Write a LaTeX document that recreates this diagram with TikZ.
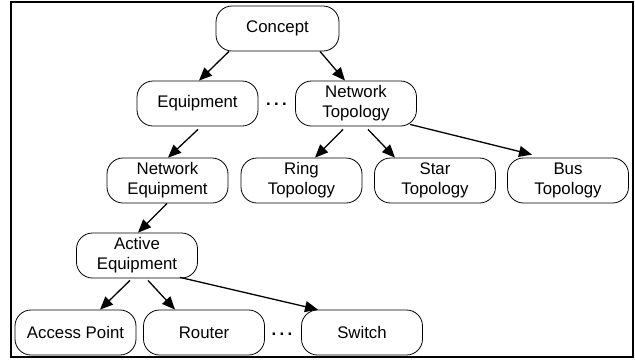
\documentclass[tikz,border=0pt]{standalone}
\usepackage{fontspec}
\setmainfont{Liberation Sans}
\usetikzlibrary{arrows.meta}

\tikzset{
  concept box/.style={draw, line width=0.8pt, rounded corners=16pt,
    minimum width=121pt, minimum height=45pt, inner sep=0pt, align=center,
    font=\fontsize{16.8}{20}\selectfont},
  link/.style={line width=1.3pt, -{Triangle[length=13pt,width=11pt]}},
  ellipsis/.style={font=\fontsize{16.8}{20}\selectfont\bfseries, inner sep=0pt}
}
\newcommand{\spaceddots}{.\hspace{3.3pt}.\hspace{3.3pt}.}

\begin{document}
\begin{tikzpicture}[x=1pt, y=-1pt]
  \useasboundingbox (0,0) rectangle (635,360);
  % outer frame
  \draw[line width=2.5pt] (11,2) rectangle (633,357);

  % concept hierarchy
  \node[concept box, minimum width=123pt] (concept) at (277.5,28.5) {Concept};
  \node[concept box] (equip)    at (197.5,103.5) {Equipment};
  \node[concept box] (ntopo)    at (356,103.5)   {Network\\Topology};
  \node[ellipsis]    (dotsA)    at (276.5,104)   {\spaceddots};
  \node[concept box] (netequip) at (167.5,180.5) {Network\\Equipment};
  \node[concept box] (ring)     at (301.5,180.5) {Ring\\Topology};
  \node[concept box] (star)     at (435,180.5)   {Star\\Topology};
  \node[concept box] (bus)      at (568,180.5)   {Bus\\Topology};
  \node[concept box] (active)   at (137,255.5)   {Active\\Equipment};
  \node[concept box] (ap)       at (75.5,332.5)  {Access Point};
  \node[concept box] (router)   at (204,332.5)   {Router};
  \node[ellipsis]    (dotsB)    at (282,334)     {\spaceddots};
  \node[concept box] (switch)   at (362,332.5)   {Switch};

  % relations
  \draw[link] ([xshift=-48.5pt]concept.south) -- ([xshift=1.5pt]equip.north);
  \draw[link] ([xshift=42.5pt]concept.south)  -- ([xshift=-11pt]ntopo.north);
  \draw[link] ([xshift=0.5pt,yshift=-3pt]equip.south) -- ([xshift=0.5pt]netequip.north);
  \draw[link] ([xshift=-13pt,yshift=-3pt]ntopo.south) -- ([xshift=13.5pt]ring.north);
  \draw[link] ([xshift=12pt,yshift=-3pt]ntopo.south)  -- ([xshift=-40pt]star.north);
  \draw[link] ([xshift=54pt,yshift=2pt]ntopo.south)   -- ([xshift=-36pt,yshift=3pt]bus.north);
  \draw[link] ([xshift=-0.5pt]netequip.south) -- ([xshift=1pt]active.north);
  \draw[link] ([xshift=-7pt,yshift=-2pt]active.south) -- ([xshift=24.5pt]ap.north);
  \draw[link] ([xshift=11pt,yshift=-2pt]active.south) -- ([xshift=-29pt]router.north);
  \draw[link] ([xshift=43pt,yshift=1pt]active.south)  -- ([xshift=-44pt]switch.north);
\end{tikzpicture}
\end{document}
